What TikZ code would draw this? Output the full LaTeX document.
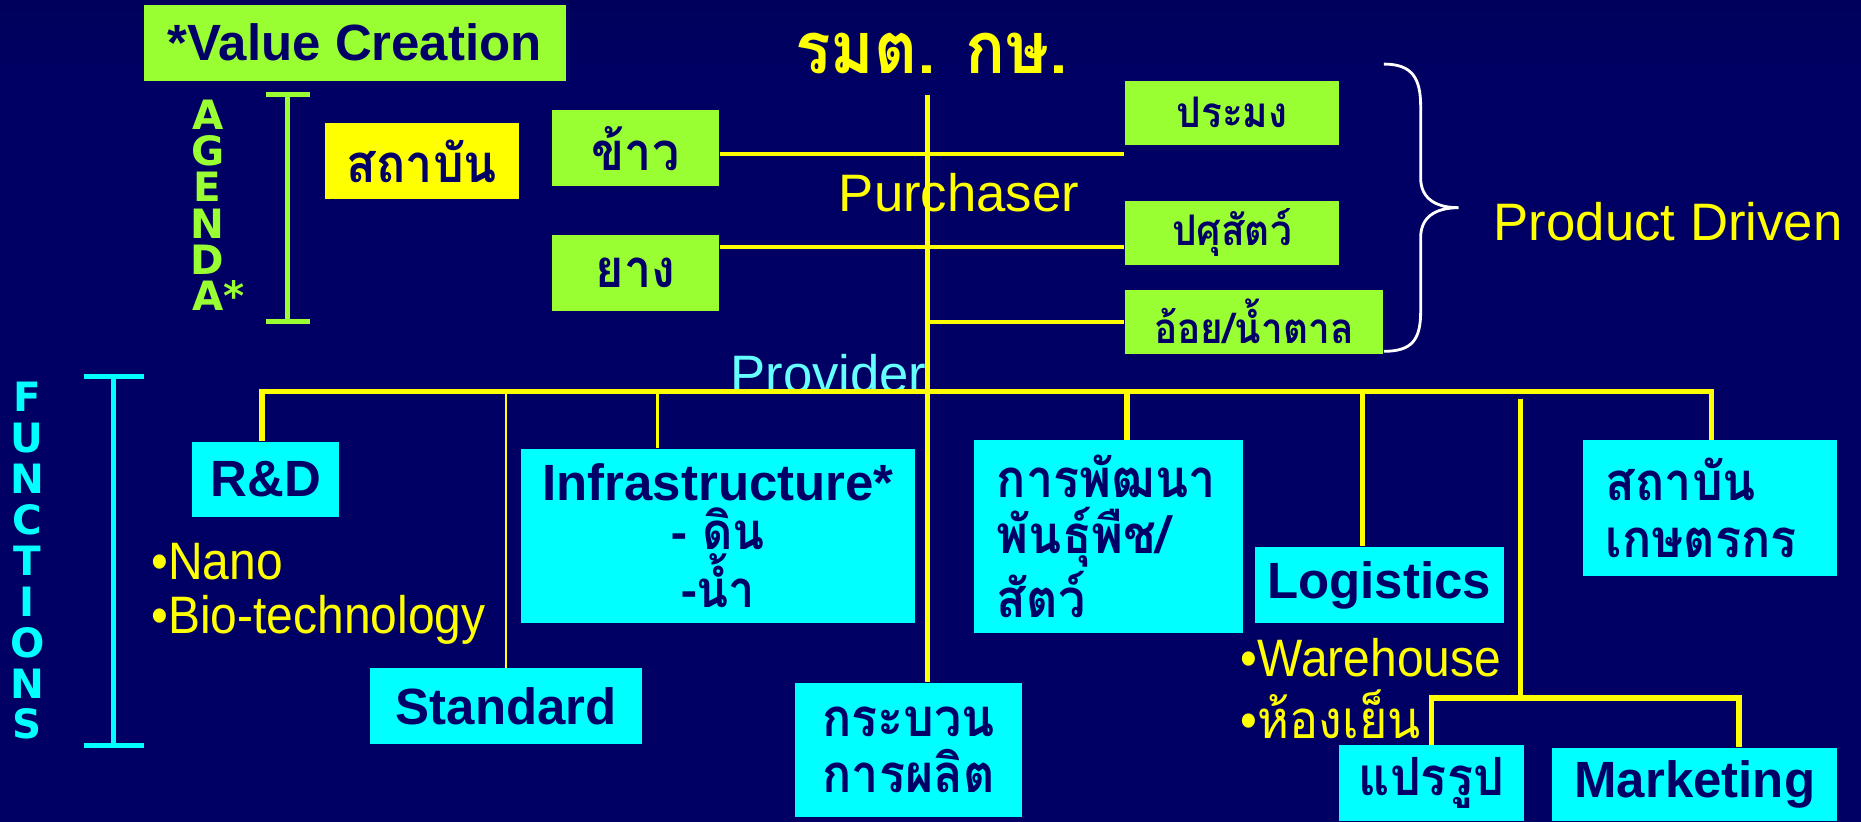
\documentclass[tikz,border=0pt]{standalone}
\usepackage{fontspec}
\setmainfont{Liberation Sans}
\newfontfamily\thaifont[Script=Thai, FakeStretch=0.92]{Loma}
\newfontfamily\widefont{DejaVu Sans}
\newfontfamily\narrowfont[FakeStretch=0.91]{Liberation Sans}
\usepackage{tikz}
\usetikzlibrary{positioning}

\definecolor{navy}{RGB}{0,0,102}
\definecolor{lime}{RGB}{153,255,51}
\definecolor{aqua}{RGB}{0,255,255}
\definecolor{gold}{RGB}{255,255,0}
\definecolor{paleaqua}{RGB}{102,255,255}
\definecolor{bgtop}{RGB}{0,0,48}
\definecolor{bgmain}{RGB}{0,0,100}
\definecolor{bgbot}{RGB}{0,0,72}
\pgfdeclareverticalshading{bgshade}{100bp}{color(0bp)=(bgbot); color(18bp)=(bgmain); color(70bp)=(bgmain); color(100bp)=(bgtop)}

\newlength\spx
\setlength\spx{0.011869cm}
\newcommand\thaititle{\thaifont\bfseries\fontsize{20.5}{22}\selectfont}
\newcommand\thaibig{\thaifont\bfseries\fontsize{15}{16}\selectfont}
\newcommand\thaismall{\thaifont\bfseries\fontsize{12}{14}\selectfont}
\newcommand\latinbold{\bfseries\fontsize{14.5}{14}\selectfont}
\newcommand\latinplain{\fontsize{15}{17}\selectfont}

\begin{document}
\begin{tikzpicture}[x=0.011869cm, y=-0.011869cm, node distance=40\spx,
  greenbox/.style={fill=lime, text=navy, inner sep=0pt, font=\thaibig},
  yellowbox/.style={fill=gold, text=navy, inner sep=0pt, font=\thaibig},
  cyanbox/.style={fill=aqua, text=navy, inner sep=0pt},
  agletters/.style={text=lime, inner sep=0pt, align=center, font=\widefont\bfseries\fontsize{11.5}{10.3}\selectfont},
  fnletters/.style={text=aqua, inner sep=0pt, align=center, font=\widefont\bfseries\fontsize{11.5}{11.65}\selectfont},
  plaintext/.style={inner sep=0pt, font=\latinplain},
  bullettext/.style={text=gold, inner sep=0pt, anchor=west, font=\narrowfont\fontsize{15}{17}\selectfont},
  bus/.style={draw=gold, line width=1.6pt},
  branch/.style={draw=gold, line width=1.2pt},
  thinline/.style={draw=gold, line width=0.7pt}]
\shade[shading=bgshade] (0,0) rectangle (1568,692);
\useasboundingbox (0,0) rectangle (1568,692);

% upper half
\node[greenbox, font=\latinbold, minimum width=356\spx, minimum height=64\spx] (valcr) at (299,36) {*Value Creation};
\node[text=gold, inner sep=0pt, font=\thaititle] (minister) at (785,45) {รมต. กษ.};
\node[yellowbox, minimum width=163\spx, minimum height=64\spx] (inst) at (355.5,136) {สถาบัน};
\node[greenbox, minimum width=141\spx, minimum height=64\spx] (khao) at (535.5,125) {ข้าว};
\node[greenbox, minimum width=141\spx, minimum height=64\spx, below=of khao] (yang) {ยาง};
\node[greenbox, font=\thaismall, minimum width=180\spx, minimum height=54\spx] (pramong) at (1038,95) {ประมง};
\node[greenbox, font=\thaismall, minimum width=180\spx, minimum height=54\spx, below=46\spx of pramong] (pasu) {ปศุสัตว์};
\node[greenbox, font=\thaismall, minimum width=217\spx, minimum height=54\spx] (oi) at (1056.5,271) {อ้อย/น้ำตาล};

\node[plaintext, text=gold] (purch) at (808,162) {Purchaser};
\node[plaintext, text=paleaqua] (prov) at (698,315) {Provider};
\node[plaintext, text=gold, anchor=west] (prod) at (1258,187) {Product Driven};

\draw[white, line width=0.8pt] (1166,54) .. controls (1190,54) and (1197,66) .. (1197,90) -- (1197,150)
  .. controls (1197,166) and (1208,175) .. (1229,175) .. controls (1208,175) and (1197,184) .. (1197,200)
  -- (1197,262) .. controls (1197,286) and (1190,296) .. (1166,296);

\node[agletters] (agenda) at (175,173) {A\\G\\E\\N\\D\\A\rlap{*}};
\draw[lime, line width=1.4pt] (224,80) -- (261,80) (242,80) -- (242,271) (224,271) -- (261,271);

\node[fnletters] (functions) at (23,472.5) {F\\U\\N\\C\\T\\I\\O\\N\\S};
\draw[aqua, line width=1.4pt] (71,317) -- (121,317) (96,317) -- (96,628) (71,628) -- (121,628);

% lower half
\node[cyanbox, font=\latinbold, minimum width=124\spx, minimum height=64\spx] (rd) at (224,404) {R\&D};
\node[cyanbox, font=\latinbold, minimum width=229\spx, minimum height=64\spx] (std) at (426.5,595) {Standard};
\node[cyanbox, font=\latinbold, align=center, minimum width=332\spx, minimum height=147\spx] (infra) at (605,451.5)
  {Infrastructure*\\{\thaifont - ดิน}\\{\thaifont -น้ำ}};
\node[cyanbox, font=\thaibig, align=center, minimum width=191\spx, minimum height=113\spx] (proc) at (765.5,632) {กระบวน\\การผลิต};
\node[cyanbox, font=\thaibig, align=left, text width=188\spx, inner xsep=19\spx, minimum height=162\spx] (breed) at (934,452)
  {การพัฒนา\\พันธุ์พืช/\\สัตว์};
\node[cyanbox, font=\latinbold, minimum width=210\spx, minimum height=64\spx] (logi) at (1162,493) {Logistics};
\node[cyanbox, font=\thaibig, align=left, text width=176\spx, inner xsep=19\spx, minimum height=114\spx] (farm) at (1441,428)
  {สถาบัน\\เกษตรกร};
\node[cyanbox, font=\thaibig, minimum width=156\spx, minimum height=64\spx] (transf) at (1206,660) {แปรรูป};
\node[cyanbox, font=\latinbold, minimum width=240\spx, minimum height=62\spx] (mkt) at (1428,661) {Marketing};

\node[bullettext] (nano) at (127,473) {•Nano};
\node[bullettext] (bio) at (127,522) {•Bio-technology};
\node[bullettext] (ware) at (1045,554) {•Warehouse};
\node[bullettext] (cold) at (1045,602) {•{\thaifont ห้องเย็น}};

% connectors
\coordinate (trunktop) at (781.6,80);
\coordinate (lvl1) at (0,130);
\coordinate (lvl2) at (0,208);
\draw[bus] (trunktop) -- (trunktop |- proc.north);
\draw[branch] (khao.east |- lvl1) -- (pramong.west |- lvl1);
\draw[branch] (yang.east |- lvl2) -- (pasu.west |- lvl2);
\draw[branch] (trunktop |- oi.west) -- (oi.west);

\coordinate (busL) at (221,330);
\coordinate (busR) at (1442,330);
\draw[bus] (busL |- rd.north) -- (busL) -- (busR) -- (busR |- farm.north);
\draw[thinline] (std.north) -- (std.north |- busL);
\coordinate (infratap) at (554,330);
\draw[thinline] (infratap) -- (infratap |- infra.north);
\coordinate (breedtap) at (949.5,330);
\draw[bus] (breedtap) -- (breedtap |- breed.north);
\coordinate (logitap) at (1148,330);
\draw[bus] (logitap) -- (logitap |- logi.north);
\coordinate (prodtap) at (1281,336);
\coordinate (split) at (1281,588);
\coordinate (mkttap) at (1465,588);
\draw[bus] (prodtap) -- (split);
\draw[bus] (transf.north) -- (transf.north |- split) -- (mkttap) -- (mkttap |- mkt.north);
\end{tikzpicture}
\end{document}
